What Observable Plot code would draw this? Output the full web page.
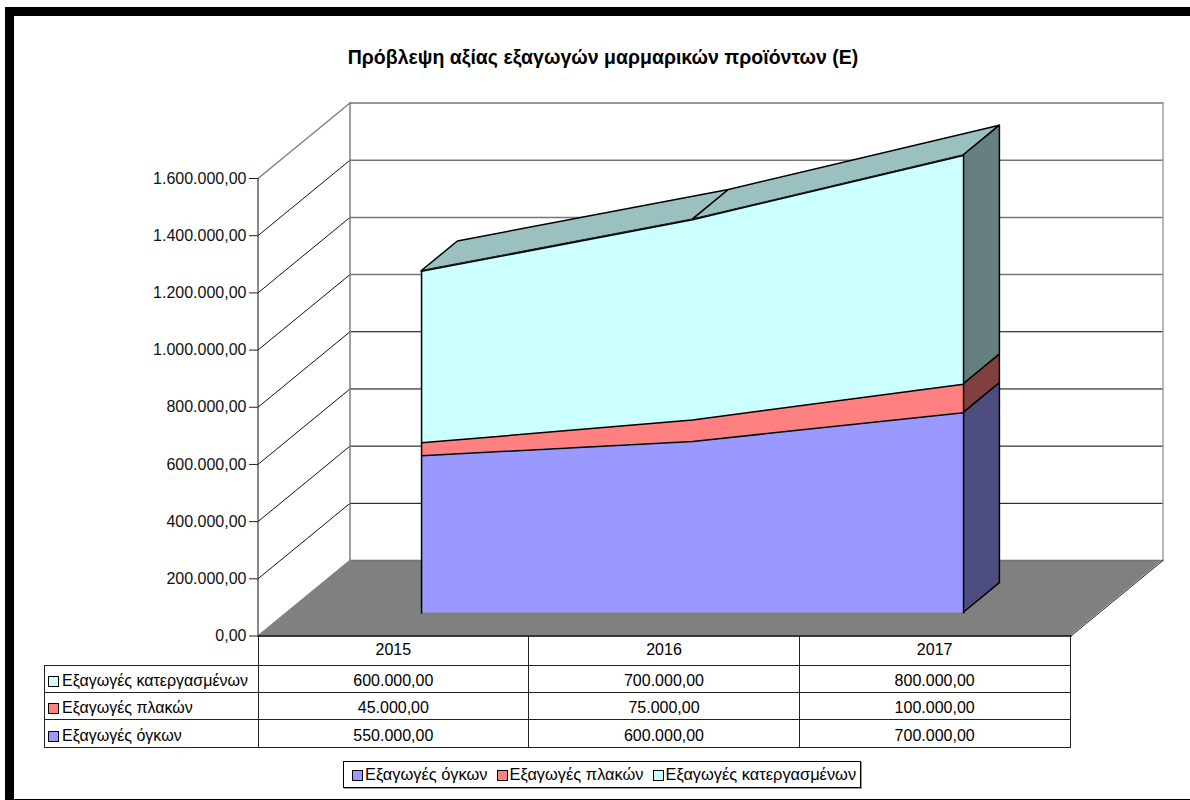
<!DOCTYPE html>
<html lang="el">
<head>
<meta charset="utf-8">
<script src="https://cdn.jsdelivr.net/npm/d3@7"></script>
<script src="https://cdn.jsdelivr.net/npm/@observablehq/plot@0.6"></script>
<style>
  html,body{margin:0;padding:0;background:#fff;}
  body{width:1190px;height:800px;overflow:hidden;font-family:"Liberation Sans",Arial,sans-serif;color:#000;}
  #page{position:relative;width:1190px;height:800px;}
  #frame{position:absolute;left:5px;top:7px;right:0;bottom:0;box-sizing:border-box;border-left:9px solid #000;border-top:9px solid #000;border-bottom:1px solid #000;pointer-events:none;}
  #title{height:80px;box-sizing:border-box;padding-top:47px;text-align:center;padding-left:16px;font-weight:bold;font-size:19.5px;line-height:20px;white-space:nowrap;}
  #chart{height:556px;}
  #chart svg{overflow:visible;display:block;}
  table{border-collapse:collapse;table-layout:fixed;margin-left:44px;width:1026.5px;font-size:16px;}
  td{border:1px solid #222;text-align:center;padding:4px 0 0 0;height:22.4px;line-height:16px;overflow:visible;white-space:nowrap;}
  tr.years td{height:28.6px;border-top:none;padding-top:0;}
  td.blank{border:none;border-right:1px solid #222;border-bottom:1px solid #222;}
  td.key{text-align:left;padding-left:3px;}
  .sw{display:inline-block;width:9px;height:9px;border:1.5px solid #000;margin-right:3px;vertical-align:-1px;}
  #legend{position:absolute;left:343px;top:761px;width:518px;height:27px;box-sizing:border-box;border:1px solid #000;box-shadow:1px 1px 0 #999;padding-left:8px;display:flex;align-items:center;justify-content:flex-start;gap:9px;font-size:16.4px;white-space:nowrap;}
  #legend .sw{margin-right:2px;}
</style>
</head>
<body>
<div id="page">
  <div id="frame"></div>
  <div id="title"></div>
  <div id="chart"></div>
  <div id="tablewrap"></div>
  <div id="legend"></div>
</div>
<script>
const titleText = "Πρόβλεψη αξίας εξαγωγών μαρμαρικών προϊόντων (Ε)";
const years = ["2015", "2016", "2017"];
const seriesNames = ["Εξαγωγές όγκων", "Εξαγωγές πλακών", "Εξαγωγές κατεργασμένων"];
const ogkon = [550000, 600000, 700000];
const plakon = [45000, 75000, 100000];
const katergasmenon = [600000, 700000, 800000];
const axisTicks = [0, 200000, 400000, 600000, 800000, 1000000, 1200000, 1400000, 1600000];
const frontColors = ["#9999ff", "#ff8080", "#ccffff"];
const sideColors = ["#4d4d80", "#804040", "#668080"];
const topColor = "#9ac0c0";

const locale = d3.formatLocale({decimal: ",", thousands: ".", grouping: [3], currency: ["", ""]});
const fmt = locale.format(",.2f");
const seriesValues = [ogkon, plakon, katergasmenon];

// Stacks
const lower = [], upper = [];
seriesValues.forEach((vals, k) => {
  lower.push(k === 0 ? vals.map(() => 0) : upper[k - 1]);
  upper.push(vals.map((v, i) => lower[k][i] + v));
});

// Oblique projection expressed in data units
const depthX = 0.3395, depthY = 264000;
const dFront = 0.305, dBack = 0.7;
const pt = (cat, val, d) => ({x: cat + d * depthX, y: val + d * depthY});
const catPos = i => i + 0.5;
const strip = (a, b) => a.map((p, i) => ({x1: p.x, y1: p.y, x2: b[i].x, y2: b[i].y}));
const xMax = years.length, yMax = axisTicks[axisTicks.length - 1];
const face = (a, b, o) => Plot.area(strip(a, b), {x1: "x1", y1: "y1", x2: "x2", y2: "y2", ...o});
const ln = (pts, o) => Plot.line(pts, {x: "x", y: "y", ...o});

const marks = [];
// Floor
marks.push(face([pt(0,0,0), pt(xMax,0,0)], [pt(0,0,1), pt(xMax,0,1)], {fill: "#808080"}));
// Walls grid
axisTicks.forEach(t => {
  if (t > 0) marks.push(ln([pt(0,t,0), pt(0,t,1)], {stroke: t === yMax ? "#808080" : "#111", strokeWidth: t === yMax ? 1.5 : 1}));
  marks.push(ln([pt(0,t,1), pt(xMax,t,1)], {stroke: t >= 1000000 || t === 0 ? "#757575" : "#000", strokeWidth: t >= 1000000 || t === 0 ? 1.5 : 1}));
});
marks.push(ln([pt(0,0,0), pt(0,0,1)], {stroke: "#808080", strokeWidth: 1}));
marks.push(ln([pt(0,0,1), pt(0,yMax,1)], {stroke: "#808080", strokeWidth: 1.5}));
marks.push(ln([pt(xMax,0,1), pt(xMax,yMax,1)], {stroke: "#a0a0a0", strokeWidth: 1.5}));
marks.push(ln([pt(xMax,0,0), pt(xMax,0,1)], {stroke: "#222", strokeWidth: 1}));
// Axis
marks.push(Plot.ruleX([0], {y1: 0, y2: yMax, stroke: "#111"}));
marks.push(Plot.axisY(axisTicks, {anchor: "left", tickFormat: fmt, tickSize: 8.5, tickPadding: 3, label: null, fontSize: 16, stroke: "#222", fill: "#111"}));
marks.push(ln([pt(0,0,0), pt(xMax,0,0)], {stroke: "#000", strokeWidth: 1.5}));

// Top face
const last = seriesValues.length - 1;
for (let i = 0; i < years.length - 1; i++) {
  marks.push(face(
    [pt(catPos(i), upper[last][i], dFront), pt(catPos(i+1), upper[last][i+1], dFront)],
    [pt(catPos(i), upper[last][i], dBack), pt(catPos(i+1), upper[last][i+1], dBack)],
    {fill: topColor, stroke: "#000", strokeWidth: 1.5}));
}
// Side faces and fronts
const e = years.length - 1;
seriesValues.forEach((_, k) => {
  marks.push(face(
    [pt(catPos(e), upper[k][e], dFront), pt(catPos(e), upper[k][e], dBack)],
    [pt(catPos(e), lower[k][e], dFront), pt(catPos(e), lower[k][e], dBack)],
    {fill: sideColors[k], stroke: "#000", strokeWidth: 1.5}));
  const up = years.map((_, i) => pt(catPos(i), upper[k][i], dFront));
  const lo = years.map((_, i) => pt(catPos(i), lower[k][i], dFront));
  marks.push(face(up, lo, {fill: frontColors[k]}));
});
seriesValues.forEach((_, k) => {
  marks.push(ln(years.map((_, i) => pt(catPos(i), upper[k][i], dFront)), {stroke: "#000", strokeWidth: 1.5}));
  [0, e].forEach(i => marks.push(ln([pt(catPos(i), lower[k][i], dFront), pt(catPos(i), upper[k][i], dFront)], {stroke: "#000", strokeWidth: 1.5})));
});

const plot = Plot.plot({
  width: 1190,
  height: 556,
  marginLeft: 257.5,
  marginRight: 119.5,
  marginTop: 98,
  marginBottom: 0.5,
  style: {fontFamily: '"Liberation Sans", Arial, sans-serif', fontSize: "16px", background: "transparent", overflow: "visible"},
  x: {domain: [0, xMax], axis: null},
  y: {domain: [0, yMax], axis: null},
  marks
});
document.getElementById("chart").append(plot);
document.getElementById("title").textContent = titleText;

// Data table
const swatch = c => `<span class="sw" style="background:${c}"></span>`;
let html = `<table><colgroup><col style="width:213.5px">${years.map(() => '<col>').join("")}</colgroup>`;
html += `<tr class="years"><td class="blank"></td>${years.map(y => `<td>${y}</td>`).join("")}</tr>`;
[2, 1, 0].forEach(k => {
  html += `<tr><td class="key">${swatch(frontColors[k])}${seriesNames[k]}</td>${seriesValues[k].map(v => `<td>${fmt(v)}</td>`).join("")}</tr>`;
});
html += "</table>";
document.getElementById("tablewrap").innerHTML = html;

// Legend
document.getElementById("legend").innerHTML = seriesNames.map((n, k) => `<span>${swatch(frontColors[k])}${n}</span>`).join("");
</script>
</body>
</html>
